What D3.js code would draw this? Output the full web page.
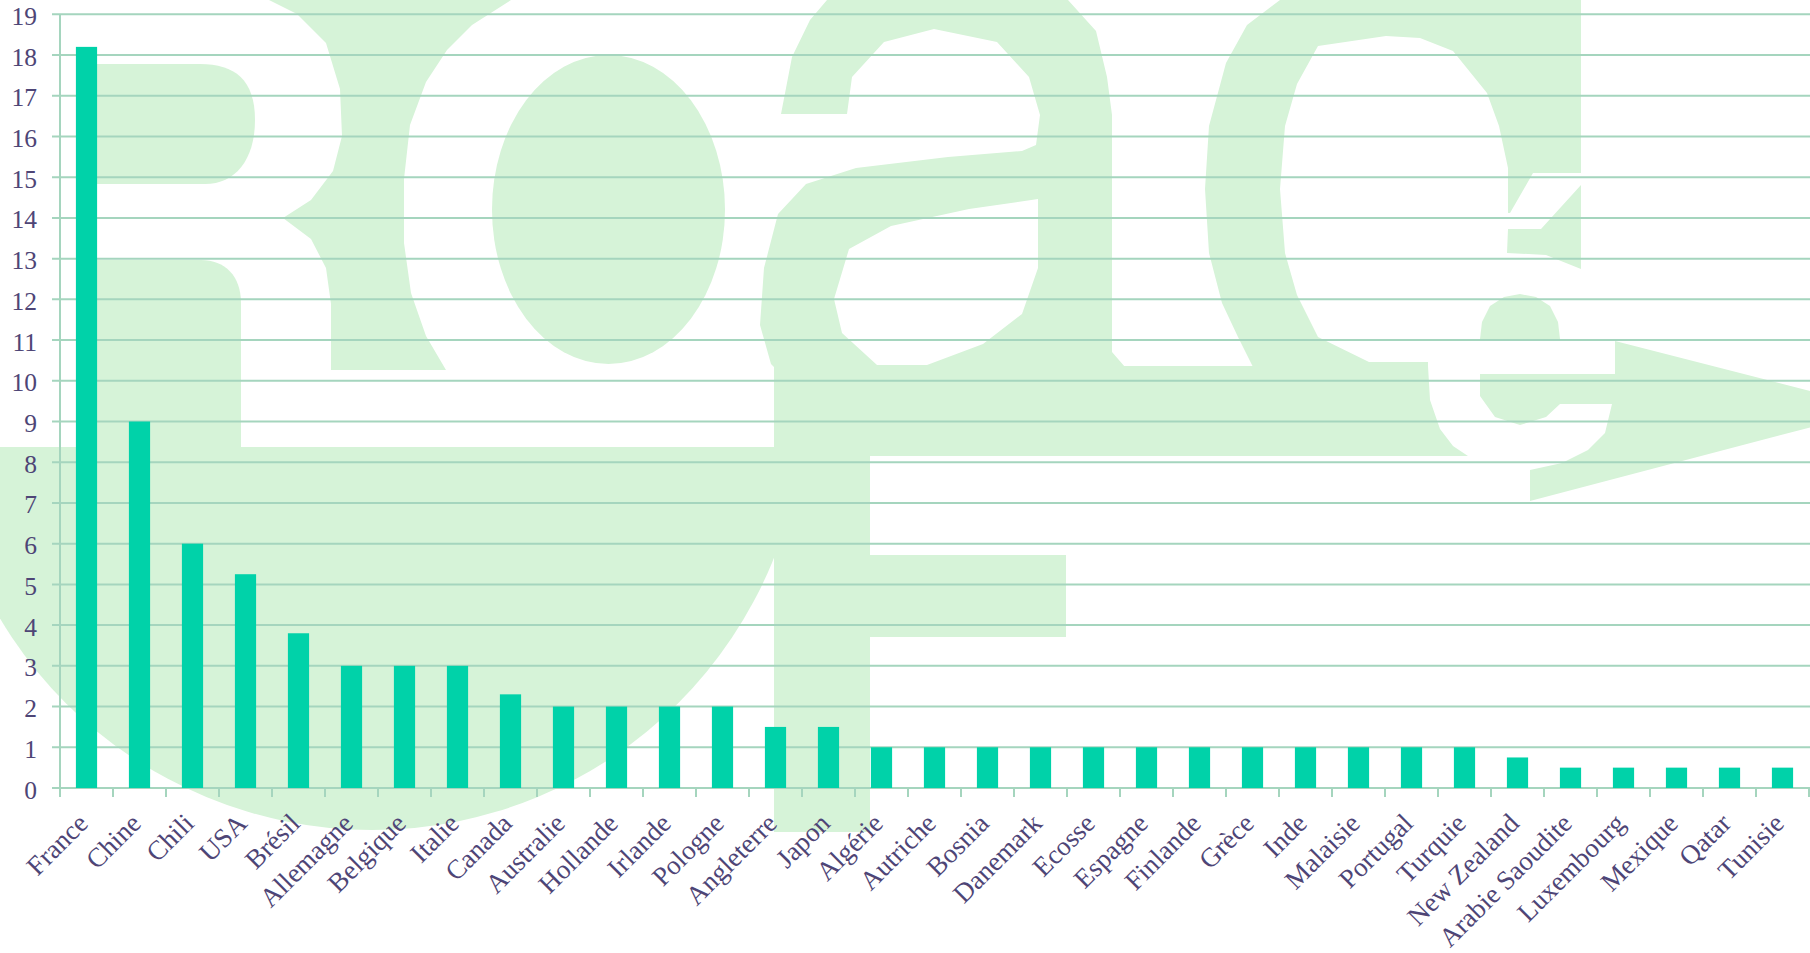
<!DOCTYPE html>
<html>
<head>
<meta charset="utf-8">
<script src="https://cdn.jsdelivr.net/npm/d3@7"></script>
<style>
html,body{margin:0;padding:0;background:#fff;}
svg{display:block;}
</style>
</head>
<body>
<svg id="chart" width="1810" height="953"></svg>
<script>
// ---- data ----
const categories = ["France","Chine","Chili","USA","Brésil","Allemagne","Belgique","Italie","Canada","Australie","Hollande","Irlande","Pologne","Angleterre","Japon","Algérie","Autriche","Bosnia","Danemark","Ecosse","Espagne","Finlande","Grèce","Inde","Malaisie","Portugal","Turquie","New Zealand","Arabie Saoudite","Luxembourg","Mexique","Qatar","Tunisie"];
const values = [18.2,9,6,5.25,3.8,3,3,3,2.3,2,2,2,2,1.5,1.5,1,1,1,1,1,1,1,1,1,1,1,1,0.75,0.5,0.5,0.5,0.5,0.5];
const yTicks = [0,1,2,3,4,5,6,7,8,9,10,11,12,13,14,15,16,17,18,19];

// ---- layout ----
const W = 1810, H = 953;
const mLeft = 60, mRight = 1809, mTop = 14.3, mBottom = 788;
const textColor = "#4e4576", gridColor = "#a5d5be", barColor = "#00d2a9", wmColor = "#d6f3d8";

const svg = d3.select("#chart");

// ---- watermark (decorative logo) ----
const wm = svg.append("g").attr("fill", wmColor);
const clipId = "clipBelow";
svg.append("defs").append("clipPath").attr("id", clipId)
  .append("rect").attr("x", 0).attr("y", 447).attr("width", W).attr("height", H);
wm.append("circle").attr("cx", 372).attr("cy", 397).attr("r", 433).attr("clip-path", `url(#${clipId})`);
const wmPaths = [
  "M86,64 H200 C235,64 255,80 255,120 C255,160 235,184 205,184 H86 Z",
  "M86,260 H201 C225,260 241,276 241,303 V447 H86 Z",
  "M269,0 L297,14 L326,43 L340,89 L342,136 L333,171 L311,200 L283,218 L311,239 L326,268 L331,304 L331,370 L446,370 L426,336 L411,293 L404,243 L404,179 L410,125 L426,82 L447,50 L472,25 L511,0 Z",
  "M781,114 L792,57 L810,20 L827,0 L1068,0 L1096,31 L1107,77 L1112,115 L1112,352 L1125,367 L774,367 L771,364 L760,325 L764,268 L778,214 L806,184 L856,168 L948,157 L1022,151 L1036,145 L1040,115 L1029,77 L997,42 L934,29 L884,42 L852,77 L847,114 Z " +
  "M1038,199 L1038,268 L1022,314 L983,344 L927,365 L877,365 L842,333 L834,299 L849,249 L891,226 L969,209 Z",
  "M1280,0 L1581,0 L1581,173 L1533,173 L1510,213 L1508,213 L1508,168 L1499,126 L1487,93 L1453,51 L1420,38 L1386,36 L1318,46 L1297,84 L1285,126 L1280,189 L1285,253 L1297,295 L1318,337 L1369,362 L1428,362 L1428,367 L1253,367 L1238,337 L1222,303 L1209,253 L1205,189 L1209,126 L1226,63 L1247,25 Z",
  "M1581,185 L1581,269 L1546,255 L1507,253 L1508,229 L1541,229 Z",
  "M774,366 L1428,366 L1430,400 L1440,429 L1453,446 L1468,456 L774,456 Z",
  "M774,440 H870 V555 H1066 V637 H870 V832 H774 Z",
  "M1480,339 L1482,322 L1490,306 L1504,297 L1520,294 L1536,297 L1550,306 L1558,322 L1560,339 Z",
  "M1615,341 L1880,409 L1530,501 L1530,470 L1562,463 L1588,450 L1605,433 L1612,404 L1560,404 L1546,417 L1520,425 L1495,417 L1480,396 L1480,374 L1615,374 Z"
];
wm.selectAll("path.wm").data(wmPaths).join("path").attr("class","wm").attr("d", d => d).attr("fill-rule","evenodd");
wm.append("ellipse").attr("cx", 608.5).attr("cy", 209.5).attr("rx", 116.5).attr("ry", 154.5);

// ---- scales ----
const x = d3.scaleBand().domain(categories).range([mLeft, mRight]).paddingInner(0.6).paddingOuter(0.3);
const y = d3.scaleLinear().domain([0, 19]).range([mBottom, mTop]);
const step = x.step();

// ---- gridlines ----
svg.append("g").selectAll("line").data(yTicks).join("line")
  .attr("x1", mLeft - 8).attr("x2", W)
  .attr("y1", d => y(d)).attr("y2", d => y(d))
  .attr("stroke", gridColor).attr("stroke-width", 2);

svg.append("line").attr("x1", mLeft).attr("x2", mLeft).attr("y1", y(19)).attr("y2", y(0))
  .attr("stroke", gridColor).attr("stroke-width", 2);

const bounds = categories.map(c => x(c) - (step - x.bandwidth()) / 2).concat([mRight]);
svg.append("g").selectAll("line").data(bounds).join("line")
  .attr("x1", d => d).attr("x2", d => d)
  .attr("y1", y(0)).attr("y2", y(0) + 9)
  .attr("stroke", gridColor).attr("stroke-width", 2);

// ---- bars ----
svg.append("g").selectAll("rect").data(categories).join("rect")
  .attr("x", c => x(c))
  .attr("width", x.bandwidth())
  .attr("y", (c, i) => y(values[i]))
  .attr("height", (c, i) => y(0) - y(values[i]))
  .attr("fill", barColor);

// ---- y labels ----
svg.append("g").selectAll("text").data(yTicks).join("text")
  .attr("x", 37).attr("y", d => y(d) + 10.5)
  .attr("text-anchor", "end")
  .attr("font-family", "'Liberation Serif', 'Times New Roman', serif")
  .attr("font-size", 25.5).attr("fill", textColor)
  .text(d => d);

// ---- x labels ----
svg.append("g").selectAll("text").data(categories).join("text")
  .attr("transform", c => `translate(${x(c) + x.bandwidth() / 2 + 3},${mBottom + 37}) rotate(-45)`)
  .attr("text-anchor", "end")
  .attr("font-family", "'Liberation Serif', 'Times New Roman', serif")
  .attr("font-size", 27).attr("fill", textColor)
  .text(c => c);
</script>
</body>
</html>
